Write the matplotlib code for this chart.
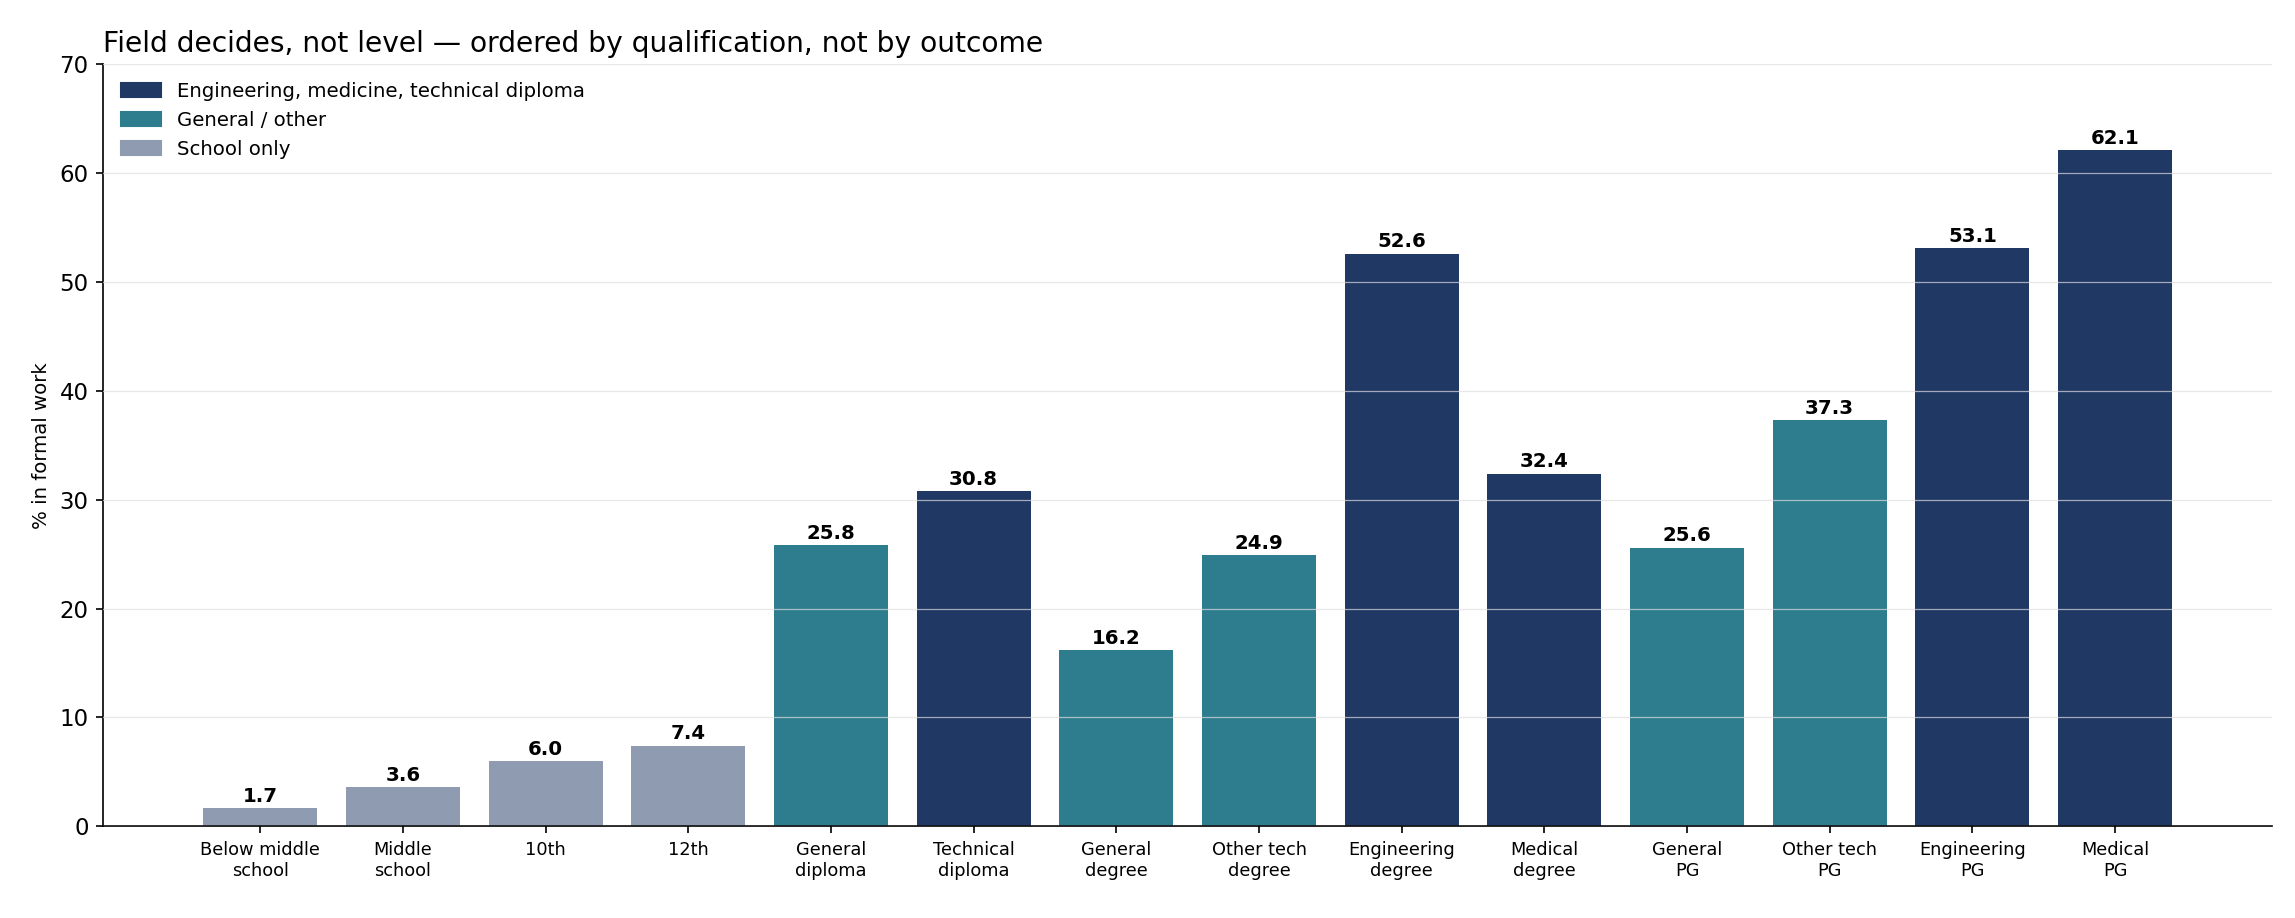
import matplotlib
matplotlib.use("Agg")
import matplotlib.pyplot as plt
from matplotlib.patches import Patch

categories = ["Below middle\nschool", "Middle\nschool", "10th", "12th", "General\ndiploma",
              "Technical\ndiploma", "General\ndegree", "Other tech\ndegree", "Engineering\ndegree",
              "Medical\ndegree", "General\nPG", "Other tech\nPG", "Engineering\nPG", "Medical\nPG"]
values = [1.7, 3.6, 6.0, 7.4, 25.8, 30.8, 16.2, 24.9, 52.6, 32.4, 25.6, 37.3, 53.1, 62.1]
groups = ["school", "school", "school", "school", "general", "tech", "general", "general",
          "tech", "tech", "general", "general", "tech", "tech"]

colors = {"tech": "#203864", "general": "#2e7d8f", "school": "#8e9bb0"}
labels = {"tech": "Engineering, medicine, technical diploma", "general": "General / other",
          "school": "School only"}

fig, ax = plt.subplots(figsize=(15.3, 6.12), dpi=150)
x = list(range(len(categories)))
bars = ax.bar(x, values, width=0.8, color=[colors[g] for g in groups], zorder=1)
for xi, v in zip(x, values):
    ax.text(xi, v + 0.2, f"{v:.1f}", ha="center", va="bottom", fontsize=9.5, fontweight="bold")
ax.set_xticks(x)
ax.set_xticklabels(categories, fontsize=8.5)
ax.set_xlim(-1.1, 14.1)
ax.set_ylim(0, 70)
ax.set_yticks(range(0, 71, 10))
ax.tick_params(axis="y", labelsize=11)
ax.set_ylabel("% in formal work", fontsize=9.5)
ax.yaxis.grid(True, color="#dddddd", linewidth=0.6, alpha=0.7, zorder=3)
ax.set_axisbelow(False)
for s in ["top", "right"]:
    ax.spines[s].set_visible(False)
ax.set_title("Field decides, not level — ordered by qualification, not by outcome",
             loc="left", fontsize=13.5)
handles = [Patch(color=colors[k], label=labels[k]) for k in ["tech", "general", "school"]]
ax.legend(handles=handles, loc="upper left", frameon=False, fontsize=9.5)
fig.subplots_adjust(left=0.045, right=0.99, top=0.93, bottom=0.1)
fig.savefig("out.png", dpi=150)
